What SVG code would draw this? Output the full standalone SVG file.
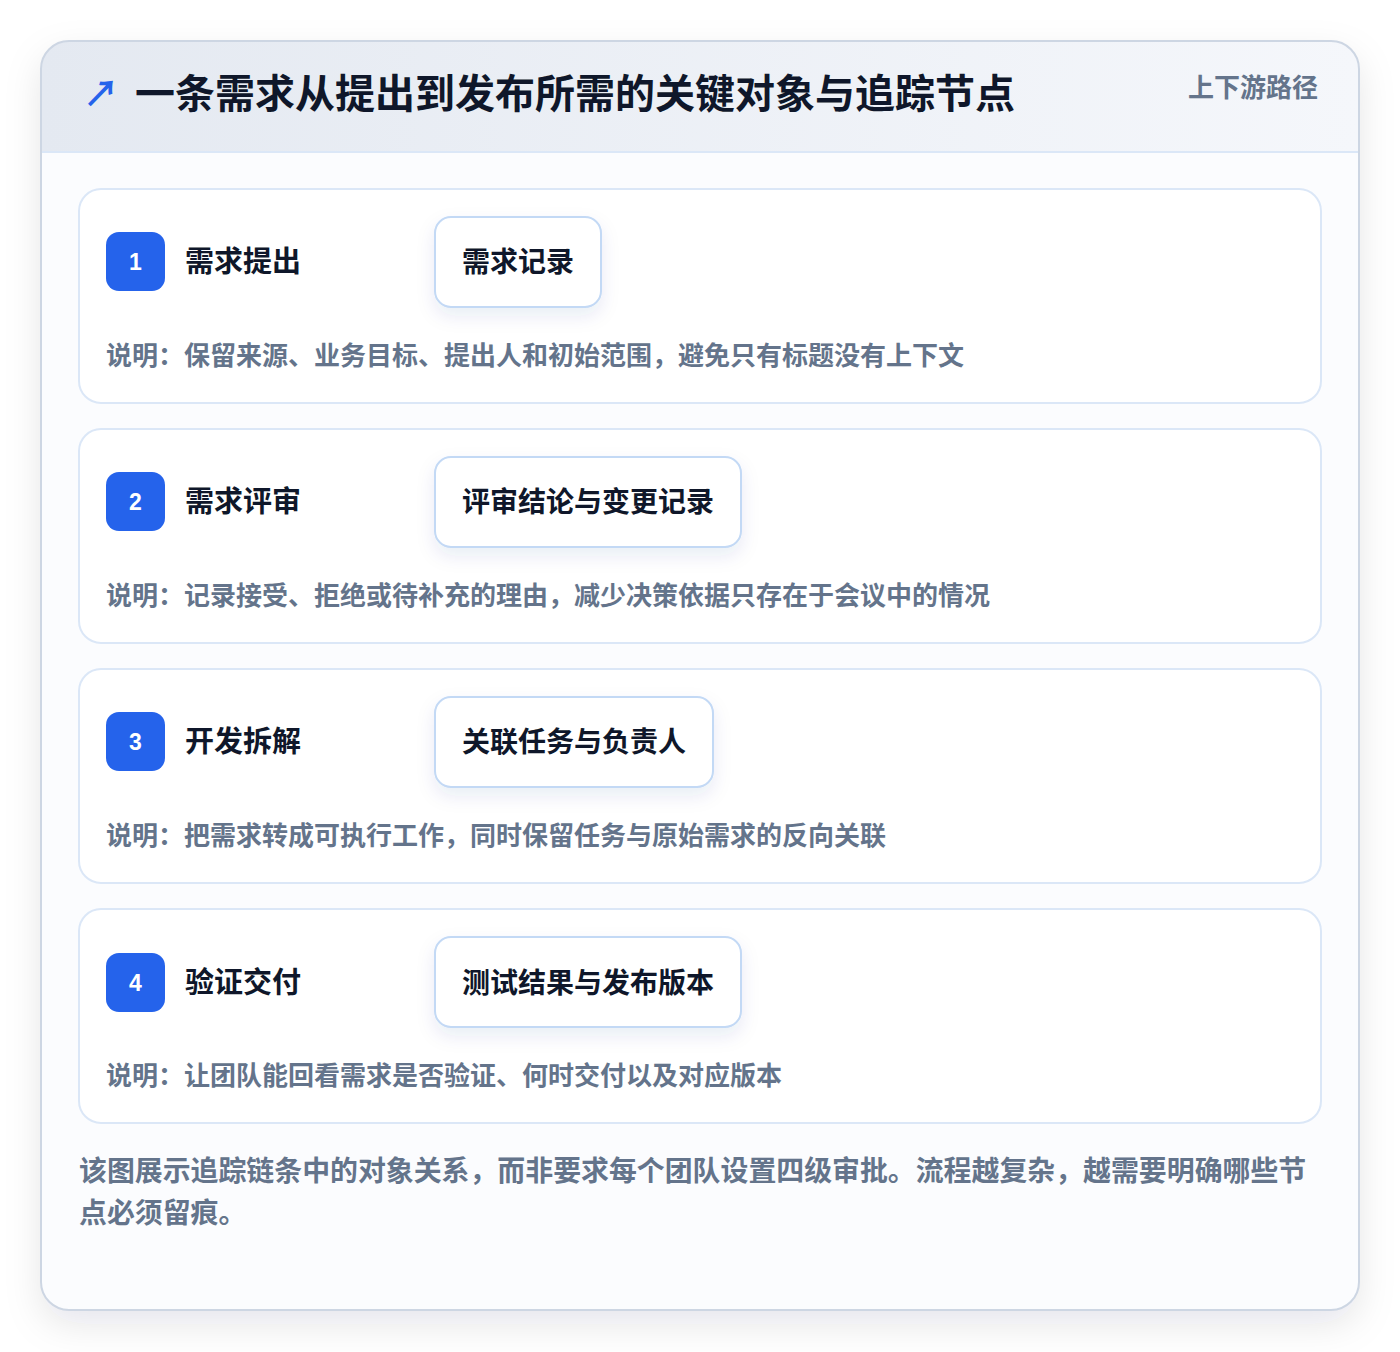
<svg xmlns="http://www.w3.org/2000/svg" width="1400" height="1352" viewBox="0 0 1400 1352">
<defs>
  <linearGradient id="hdr" x1="0" y1="0" x2="1" y2="0">
    <stop offset="0" stop-color="#e4e9f1"/>
    <stop offset="1" stop-color="#f5f7fb"/>
  </linearGradient>
  <filter id="panelShadow" x="-10%" y="-10%" width="120%" height="125%">
    <feDropShadow dx="0" dy="14" stdDeviation="18" flood-color="#0f172a" flood-opacity="0.10"/>
  </filter>
  <filter id="boxShadow" x="-20%" y="-30%" width="140%" height="170%">
    <feDropShadow dx="0" dy="8" stdDeviation="9" flood-color="#1e3a8a" flood-opacity="0.09"/>
  </filter>
  <clipPath id="panelClip"><rect x="41" y="41" width="1318" height="1269" rx="28"/></clipPath>
  <style>
    .cjk{font-family:"Noto Sans CJK SC","Noto Sans",sans-serif;}
    .title{font-size:40px;font-weight:700;fill:#0f172a;}
    .tag{font-size:26px;font-weight:600;fill:#64748b;}
    .card{fill:#ffffff;stroke:#dbe7f7;stroke-width:2;}
    .badge{fill:#2563eb;}
    .num{font-family:"Liberation Sans",Arial,sans-serif;font-size:23px;font-weight:700;fill:#ffffff;text-anchor:middle;}
    .step{font-size:29px;font-weight:700;fill:#0f172a;}
    .obj{fill:#ffffff;stroke:#c3d9f5;stroke-width:2;}
    .objt{font-size:28px;font-weight:700;fill:#0f172a;text-anchor:middle;}
    .desc{font-size:26px;font-weight:600;fill:#64748b;}
    .foot{font-size:27.9px;font-weight:600;fill:#64748b;}
  </style>
</defs>
<rect x="0" y="0" width="1400" height="1352" fill="#ffffff"/>
<g id="panel">
  <rect x="41" y="41" width="1318" height="1269" rx="28" fill="#fbfcfe" filter="url(#panelShadow)"/>
  <g clip-path="url(#panelClip)">
    <rect x="41" y="41" width="1318" height="111" fill="url(#hdr)"/>
  </g>
  <line x1="41" y1="152" x2="1359" y2="152" stroke="#dbe7f7" stroke-width="2"/>
  <rect x="41" y="41" width="1318" height="1269" rx="28" fill="none" stroke="#cdd6e3" stroke-width="2"/>
</g>
<g id="header">
  <text class="cjk" x="83" y="107" font-size="36" font-weight="700" fill="#2563eb">↗</text>
  <text class="cjk title" x="135" y="108">一条需求从提出到发布所需的关键对象与追踪节点</text>
  <text class="cjk tag" x="1318" y="97" text-anchor="end">上下游路径</text>
</g>
<g id="step1">
  <rect class="card" x="79" y="189" width="1242" height="214" rx="22"/>
  <rect class="badge" x="106" y="232" width="59" height="59" rx="13"/>
  <text class="num" x="135.5" y="270">1</text>
  <text class="cjk step" x="185" y="272">需求提出</text>
  <rect class="obj" x="435" y="217" width="166" height="90" rx="16" filter="url(#boxShadow)"/>
  <text class="cjk objt" x="518" y="272">需求记录</text>
  <text class="cjk desc" x="106" y="365">说明：保留来源、业务目标、提出人和初始范围，避免只有标题没有上下文</text>
</g>
<g id="step2">
  <rect class="card" x="79" y="429" width="1242" height="214" rx="22"/>
  <rect class="badge" x="106" y="472" width="59" height="59" rx="13"/>
  <text class="num" x="135.5" y="510">2</text>
  <text class="cjk step" x="185" y="512">需求评审</text>
  <rect class="obj" x="435" y="457" width="306" height="90" rx="16" filter="url(#boxShadow)"/>
  <text class="cjk objt" x="588" y="512">评审结论与变更记录</text>
  <text class="cjk desc" x="106" y="605">说明：记录接受、拒绝或待补充的理由，减少决策依据只存在于会议中的情况</text>
</g>
<g id="step3">
  <rect class="card" x="79" y="669" width="1242" height="214" rx="22"/>
  <rect class="badge" x="106" y="712" width="59" height="59" rx="13"/>
  <text class="num" x="135.5" y="750">3</text>
  <text class="cjk step" x="185" y="752">开发拆解</text>
  <rect class="obj" x="435" y="697" width="278" height="90" rx="16" filter="url(#boxShadow)"/>
  <text class="cjk objt" x="574" y="752">关联任务与负责人</text>
  <text class="cjk desc" x="106" y="845">说明：把需求转成可执行工作，同时保留任务与原始需求的反向关联</text>
</g>
<g id="step4">
  <rect class="card" x="79" y="909" width="1242" height="214" rx="22"/>
  <rect class="badge" x="106" y="953" width="59" height="59" rx="13"/>
  <text class="num" x="135.5" y="991">4</text>
  <text class="cjk step" x="185" y="993">验证交付</text>
  <rect class="obj" x="435" y="937" width="306" height="90" rx="16" filter="url(#boxShadow)"/>
  <text class="cjk objt" x="588" y="993">测试结果与发布版本</text>
  <text class="cjk desc" x="106" y="1085">说明：让团队能回看需求是否验证、何时交付以及对应版本</text>
</g>
<g id="connectors"></g>
<g id="footer">
  <text class="cjk foot" x="79" y="1181">该图展示追踪链条中的对象关系，而非要求每个团队设置四级审批。流程越复杂，越需要明确哪些节</text>
  <text class="cjk foot" x="79" y="1223">点必须留痕。</text>
</g>
</svg>
